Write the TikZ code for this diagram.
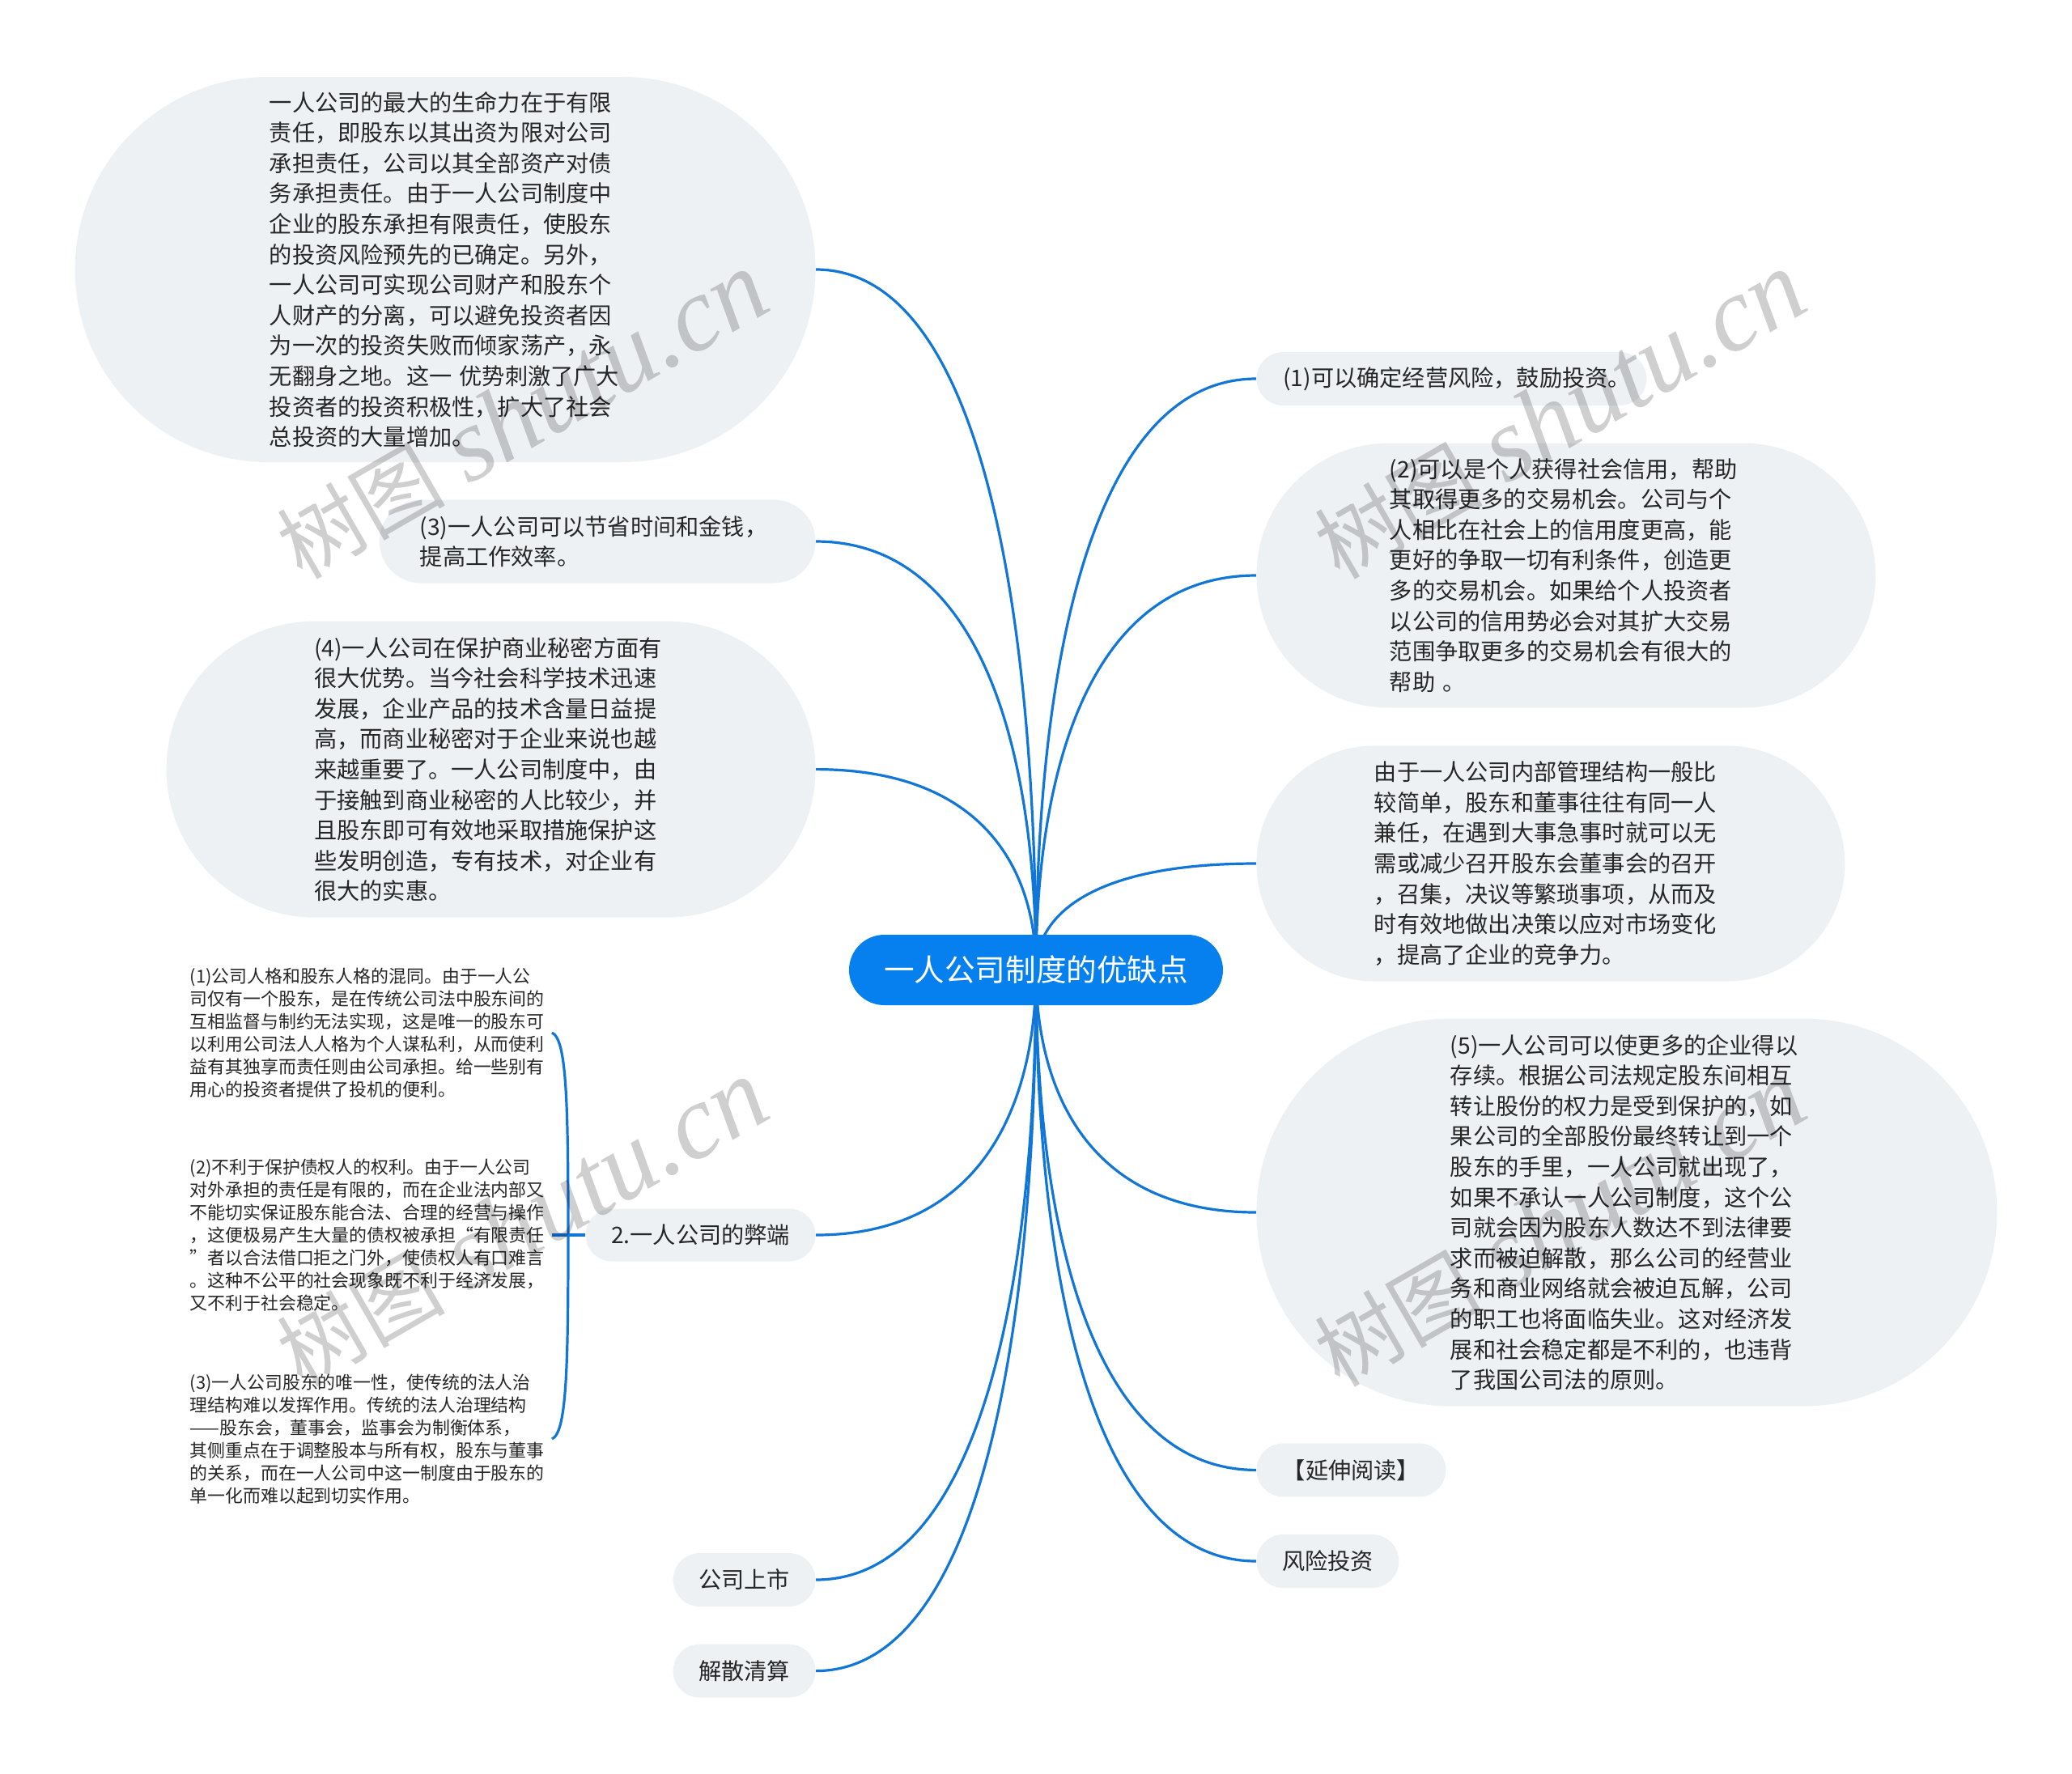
\documentclass[tikz,border=0pt]{standalone}
\usepackage{fontspec}
\setmainfont{Noto Sans CJK SC}
\newfontfamily\wmlatin{Liberation Serif}
\usetikzlibrary{shapes.misc,calc,backgrounds}
\definecolor{rootblue}{HTML}{0580EE}
\definecolor{linkblue}{HTML}{1276D6}
\definecolor{bubblegray}{HTML}{EEF1F4}
\definecolor{textgray}{HTML}{262626}
\tikzset{
  link/.style={draw=linkblue,line width=1.6pt},
  branch/.style={link,to path={let \p1=(\tikztostart),\p2=(\tikztotarget) in
    .. controls (\x1,{(\y1+\y2)/2}) and ({\x2+0.76*(\x1-\x2)},\y2) .. (\tikztotarget)}},
  rootbox/.style={rounded rectangle,fill=rootblue,text=white,inner sep=0pt,
    font=\fontsize{18.8}{24}\selectfont},
  bubble/.style={rounded rectangle,fill=bubblegray,text=textgray,inner sep=0pt,align=left,
    font=\fontsize{14.1}{18.8}\selectfont},
  smalltext/.style={text=textgray,inner xsep=4.5pt,inner ysep=0pt,align=left,anchor=east,
    font=\fontsize{10.95}{14}\selectfont},
  wmark/.style={text=black,text opacity=0.19,rotate=30,font=\fontsize{65}{70}\selectfont}
}
\newcommand{\wmtext}{{\fontsize{52}{70}\selectfont 树图} {\wmlatin\itshape shutu.cn}}
\begin{document}
\begin{tikzpicture}[x=1pt,y=-1pt]
  \useasboundingbox (0,0) rectangle (1280,1095.5);

  \node[rootbox,minimum width=231pt,minimum height=43.5pt] (root) at (640,599.25) {一人公司制度的优缺点};

  % left side
  \node[bubble,anchor=east,text width=217.3pt,minimum width=457.5pt,minimum height=238pt] (limited) at (504,166.5) {一人公司的最大的生命力在于有限\\责任，即股东以其出资为限对公司\\承担责任，公司以其全部资产对债\\务承担责任。由于一人公司制度中\\企业的股东承担有限责任，使股东\\的投资风险预先的已确定。另外，\\一人公司可实现公司财产和股东个\\人财产的分离，可以避免投资者因\\为一次的投资失败而倾家荡产，永\\无翻身之地。这一 优势刺激了广大\\投资者的投资积极性，扩大了社会\\总投资的大量增加。};
  \node[bubble,anchor=east,text width=219.3pt,minimum width=269.5pt,minimum height=51.5pt] (saving) at (504,334.5) {(3)一人公司可以节省时间和金钱，\\提高工作效率。};
  \node[bubble,anchor=east,text width=218.4pt,minimum width=401pt,minimum height=183pt] (secret) at (504,475.3) {(4)一人公司在保护商业秘密方面有\\很大优势。当今社会科学技术迅速\\发展，企业产品的技术含量日益提\\高，而商业秘密对于企业来说也越\\来越重要了。一人公司制度中，由\\于接触到商业秘密的人比较少，并\\且股东即可有效地采取措施保护这\\些发明创造，专有技术，对企业有\\很大的实惠。};
  \node[bubble,anchor=east,minimum width=142pt,minimum height=32.5pt] (harm) at (504,763) {2.一人公司的弊端};
  \node[bubble,anchor=east,minimum width=88pt,minimum height=33pt] (listed) at (504,976) {公司上市};
  \node[bubble,anchor=east,minimum width=88pt,minimum height=33pt] (dissolve) at (504,1032.3) {解散清算};

  \node[smalltext] (harmone) at (341,638) {(1)公司人格和股东人格的混同。由于一人公\\司仅有一个股东，是在传统公司法中股东间的\\互相监督与制约无法实现，这是唯一的股东可\\以利用公司法人人格为个人谋私利，从而使利\\益有其独享而责任则由公司承担。给一些别有\\用心的投资者提供了投机的便利。};
  \node[smalltext] (harmtwo) at (341,763) {(2)不利于保护债权人的权利。由于一人公司\\对外承担的责任是有限的，而在企业法内部又\\不能切实保证股东能合法、合理的经营与操作\\，这便极易产生大量的债权被承担“有限责任\\”者以合法借口拒之门外，使债权人有口难言\\。这种不公平的社会现象既不利于经济发展，\\又不利于社会稳定。};
  \node[smalltext] (harmthree) at (341,889) {(3)一人公司股东的唯一性，使传统的法人治\\理结构难以发挥作用。传统的法人治理结构\\——股东会，董事会，监事会为制衡体系，\\其侧重点在于调整股本与所有权，股东与董事\\的关系，而在一人公司中这一制度由于股东的\\单一化而难以起到切实作用。};

  % right side
  \node[bubble,anchor=west,text width=208pt,minimum width=241pt,minimum height=33pt] (risk) at (776,234) {(1)可以确定经营风险，鼓励投资。};
  \node[bubble,anchor=west,text width=218pt,minimum width=382.5pt,minimum height=163.5pt] (credit) at (776,355.5) {(2)可以是个人获得社会信用，帮助\\其取得更多的交易机会。公司与个\\人相比在社会上的信用度更高，能\\更好的争取一切有利条件，创造更\\多的交易机会。如果给个人投资者\\以公司的信用势必会对其扩大交易\\范围争取更多的交易机会有很大的\\帮助 。};
  \node[bubble,anchor=west,text width=218pt,minimum width=363.5pt,minimum height=145.5pt] (manage) at (776,533.5) {由于一人公司内部管理结构一般比\\较简单，股东和董事往往有同一人\\兼任，在遇到大事急事时就可以无\\需或减少召开股东会董事会的召开\\，召集，决议等繁琐事项，从而及\\时有效地做出决策以应对市场变化\\，提高了企业的竞争力。};
  \node[bubble,anchor=west,text width=218.1pt,minimum width=457.5pt,minimum height=239.5pt] (survive) at (776,749) {(5)一人公司可以使更多的企业得以\\存续。根据公司法规定股东间相互\\转让股份的权力是受到保护的，如\\果公司的全部股份最终转让到一个\\股东的手里，一人公司就出现了，\\如果不承认一人公司制度，这个公\\司就会因为股东人数达不到法律要\\求而被迫解散，那么公司的经营业\\务和商业网络就会被迫瓦解，公司\\的职工也将面临失业。这对经济发\\展和社会稳定都是不利的，也违背\\了我国公司法的原则。};
  \node[bubble,anchor=west,minimum width=117pt,minimum height=33pt] (reading) at (776,908.2) {【延伸阅读】};
  \node[bubble,anchor=west,minimum width=88pt,minimum height=33pt] (venture) at (776,964.5) {风险投资};

  \begin{pgfonlayer}{background}
    \draw[branch] (root.center) to (limited.east);
    \draw[branch] (root.center) to (saving.east);
    \draw[branch] (root.center) to (secret.east);
    \draw[branch] (root.center) to (harm.east);
    \draw[branch] (root.center) to (listed.east);
    \draw[branch] (root.center) to (dissolve.east);
    \draw[branch] (root.center) to (risk.west);
    \draw[branch] (root.center) to (credit.west);
    \draw[branch] (root.center) to (manage.west);
    \draw[branch] (root.center) to (survive.west);
    \draw[branch] (root.center) to (reading.west);
    \draw[branch] (root.center) to (venture.west);
  \end{pgfonlayer}

  % bracket of the three small texts
  \coordinate (spine) at (351,763);
  \draw[link] (harm.west) -- (harmtwo.east);
  \draw[link] (harmone.east) .. controls (350,642) and (351,680) .. (spine);
  \draw[link] (harmthree.east) .. controls (350,885) and (351,846) .. (spine);

  % watermark
  \node[wmark] (wmone) at (322.5,257) {\wmtext};
  \node[wmark] (wmtwo) at (963.5,257) {\wmtext};
  \node[wmark] (wmthree) at (322.5,756) {\wmtext};
  \node[wmark] (wmfour) at (963.5,756) {\wmtext};
\end{tikzpicture}
\end{document}
